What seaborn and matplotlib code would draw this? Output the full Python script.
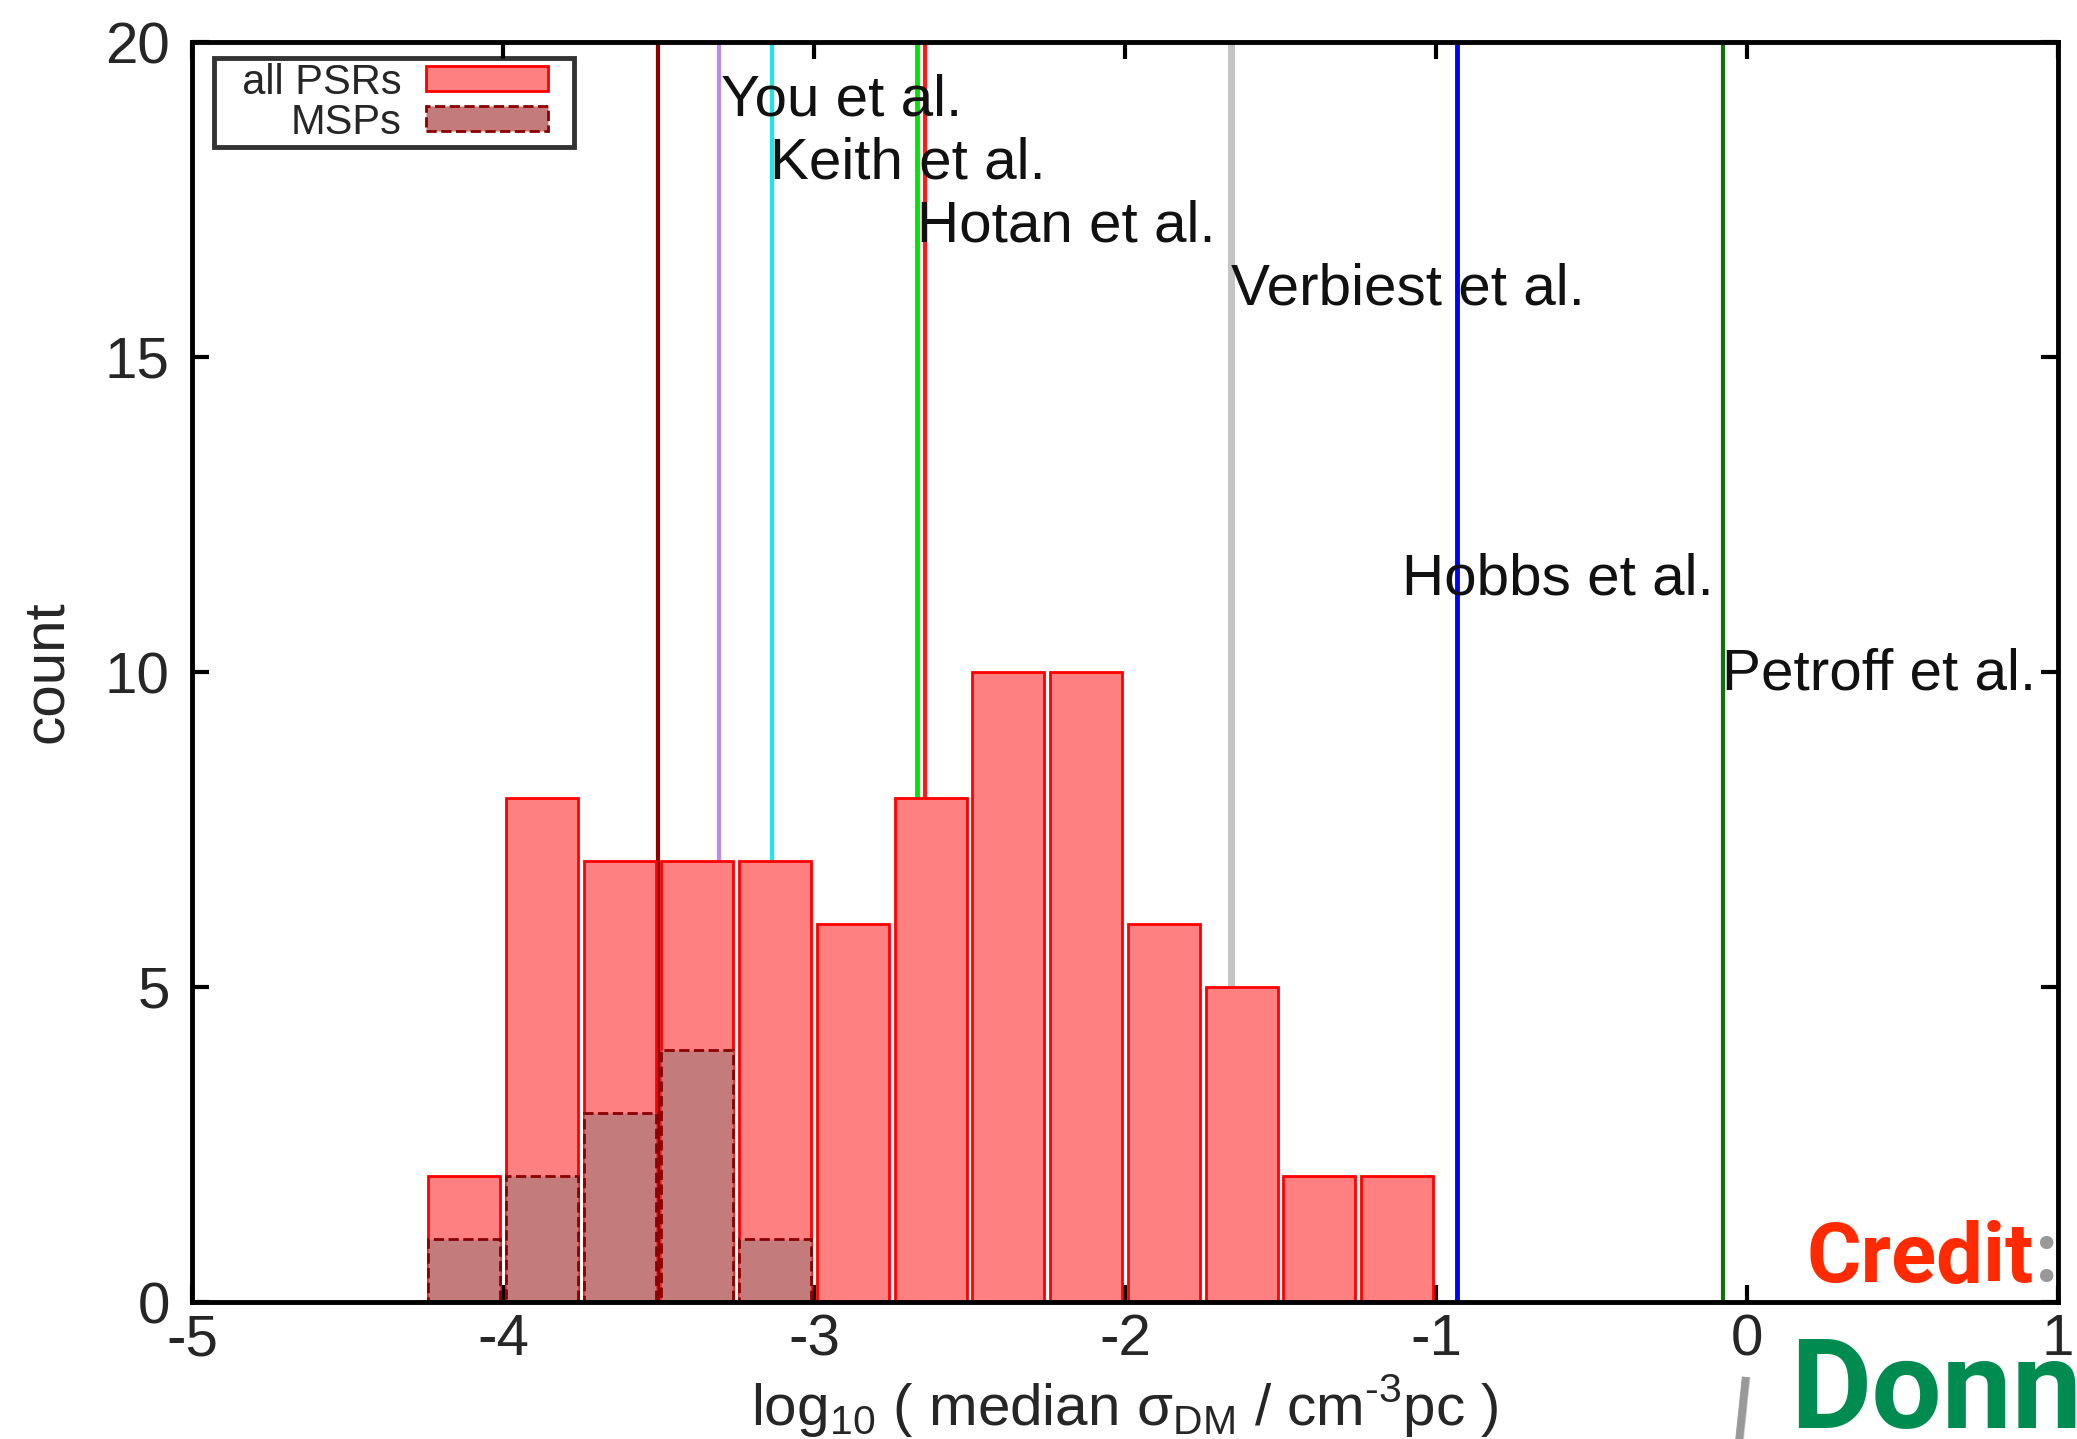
import numpy as np
import pandas as pd
import seaborn as sns
import matplotlib.pyplot as plt
from matplotlib.patches import Patch, Rectangle
from matplotlib.legend_handler import HandlerPatch

# histogram bins (log10 of median sigma_DM), width 0.25
bin_edges = [-4.25, -4.0, -3.75, -3.5, -3.25, -3.0, -2.75, -2.5, -2.25, -2.0,
             -1.75, -1.5, -1.25, -1.0]
all_psrs = [2, 8, 7, 7, 7, 6, 8, 10, 10, 6, 5, 2, 2]
msps = [1, 2, 3, 4, 1, 0, 0, 0, 0, 0, 0, 0, 0]

# reference lines from other surveys
line_x = [-3.50, -3.305, -3.136, -2.668, -2.643, -1.66, -0.932, -0.077]
line_colors = ["#8b0000", "#b58cf5", "#1ee6e6", "#00e600", "#ff1a1a",
               "#c4c4c4", "#0000ff", "#107010"]
line_widths = [3, 3, 3, 3.5, 3, 5, 3.5, 3]

label_names = ["You et al.", "Keith et al.", "Hotan et al.", "Verbiest et al.",
               "Hobbs et al.", "Petroff et al."]
label_x = [-3.30, -3.14, -2.67, -1.66, -1.11, -0.08]
label_y = [19.1, 18.1, 17.1, 16.1, 11.5, 10.0]

edges = np.array(bin_edges)
centers = (edges[:-1] + edges[1:]) / 2
df = pd.DataFrame({"center": centers, "all": all_psrs, "msp": msps})

sns.set_style("ticks")
plt.rcParams["font.family"] = ["Liberation Sans", "DejaVu Sans"]
plt.rcParams["mathtext.fontset"] = "custom"
plt.rcParams["mathtext.rm"] = "Liberation Sans"
plt.rcParams["axes.unicode_minus"] = False

fig = plt.figure(figsize=(20.77, 14.39), dpi=100)
ax = fig.add_axes([192 / 2077, 1 - 1302 / 1439, 1866 / 2077, 1260 / 1439])

for xv, c, lw in zip(line_x, line_colors, line_widths):
    ax.axvline(xv, color=c, lw=lw, zorder=1)

sns.histplot(data=df, x="center", weights="all", bins=bin_edges, shrink=0.925,
             color="#ff8080", edgecolor="#ff0000", linewidth=2, alpha=1,
             ax=ax, zorder=2)
sns.histplot(data=df, x="center", weights="msp", bins=bin_edges, shrink=0.925,
             color="#c47b7b", edgecolor="#8b0000", linewidth=2, linestyle="--",
             alpha=1, ax=ax, zorder=3)

for name, xv, yv in zip(label_names, label_x, label_y):
    ax.text(xv, yv - 0.27, name, fontsize=42, ha="left", va="baseline",
            color="#111111", zorder=4)

ax.set_xlim(-5, 1)
ax.set_ylim(0, 20)
ax.set_xticks([-5, -4, -3, -2, -1, 0, 1])
ax.set_yticks([0, 5, 10, 15, 20])
ax.tick_params(direction="in", length=12, width=3, labelsize=42,
               top=True, right=True, color="black")
ax.tick_params(axis="x", pad=8)
ax.tick_params(axis="y", pad=16)
for s in ax.spines.values():
    s.set_linewidth(3.5)
    s.set_color("black")
    s.set_zorder(5)

ax.set_xlabel("log$_{\\mathregular{10}}$ ( median σ$_{\\mathregular{DM}}$ / "
              "cm$^{\\mathregular{\u20103}}$pc )", fontsize=42, labelpad=4)
ax.set_ylabel("count", fontsize=42, labelpad=22)


# gnuplot-style key: sample box leaves a margin on its right
def key_box(legend, orig_handle, xdescent, ydescent, width, height, fontsize):
    return Rectangle((-xdescent, -ydescent), width * 0.85, height)


handles = [Patch(facecolor="#ff8080", edgecolor="#ff0000", lw=2),
           Patch(facecolor="#c47b7b", edgecolor="#8b0000", lw=2, ls="--")]
leg = ax.legend(handles, ["  all PSRs", "MSPs"], loc="upper left",
                bbox_to_anchor=(0.012, 0.987), fontsize=30, markerfirst=False,
                frameon=True, fancybox=False, handlelength=3.45,
                handleheight=0.55, labelspacing=0.0, borderpad=0.1,
                handletextpad=0.6, borderaxespad=0,
                handler_map={Patch: HandlerPatch(patch_func=key_box)})
leg.get_frame().set_edgecolor("black")
leg.get_frame().set_linewidth(3.5)

# watermark
wm = ["Roboto", "DejaVu Sans"]
fig.text(2034 / 2077, 1 - 1282 / 1439, "Credit", family=wm,
         fontweight="bold", fontsize=60, color="#ff2a00", ha="right",
         va="baseline")
fig.text(2035 / 2077, 1 - 1282 / 1439, ":", family=wm,
         fontweight="bold", fontsize=60, color="#999999", ha="left",
         va="baseline")
fig.text(1790 / 2077, 1 - 1335 / 1439, "Donne", family=wm,
         fontweight="bold", fontsize=90, color="#008c50", ha="left",
         va="top")
fig.text(1724 / 2077, 1 - 1372 / 1439, "|", family=wm,
         fontweight="bold", fontsize=70, color="#999999", ha="left",
         va="top", rotation=-6)

fig.savefig("out.png", dpi=100)
